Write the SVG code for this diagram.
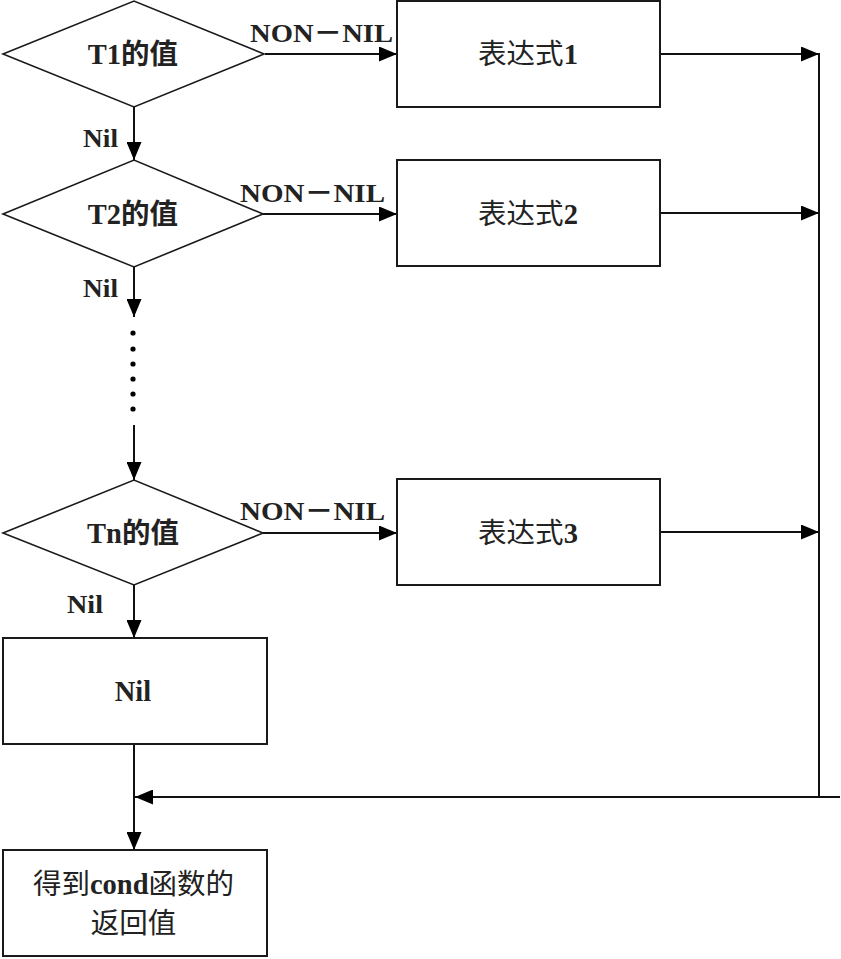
<svg xmlns="http://www.w3.org/2000/svg" width="841" height="959" viewBox="0 0 841 959">
<style>
.shape{fill:#fff;stroke:#1a1a1a;stroke-width:2}
.dia{fill:#fff;stroke:#1a1a1a;stroke-width:1.6}
.conn{fill:none;stroke:#111;stroke-width:2}
.t{font-family:"Liberation Serif","Noto Sans CJK SC",serif;font-size:28.5px;fill:#222;text-anchor:middle}
.b{font-weight:bold}
.lbl{font-family:"Liberation Serif","Noto Sans CJK SC",serif;font-size:26px;font-weight:bold;fill:#222}
</style>
<defs>
<marker id="ah" viewBox="0 0 18 15" refX="18" refY="7.5" markerWidth="18" markerHeight="15" markerUnits="userSpaceOnUse" orient="auto">
<path d="M0,0 L18,7.5 L0,15 Z" fill="#000"/>
</marker>
</defs>
<rect width="841" height="959" fill="#fff"/>
<g id="connectors">
<line class="conn" x1="265" y1="54" x2="397" y2="54" marker-end="url(#ah)"/>
<line class="conn" x1="134" y1="107" x2="134" y2="160" marker-end="url(#ah)"/>
<line class="conn" x1="263" y1="214" x2="397" y2="214" marker-end="url(#ah)"/>
<line class="conn" x1="134" y1="267" x2="134" y2="317" marker-end="url(#ah)"/>
<g fill="#000">
<circle cx="133" cy="333" r="2.6"/><circle cx="133" cy="349" r="2.6"/><circle cx="133" cy="364" r="2.6"/>
<circle cx="133" cy="379" r="2.6"/><circle cx="133" cy="394" r="2.6"/><circle cx="133" cy="409" r="2.6"/>
</g>
<line class="conn" x1="134" y1="425" x2="134" y2="480" marker-end="url(#ah)"/>
<line class="conn" x1="263" y1="533" x2="397" y2="533" marker-end="url(#ah)"/>
<line class="conn" x1="134" y1="585" x2="134" y2="638" marker-end="url(#ah)"/>
<line class="conn" x1="134" y1="744" x2="134" y2="850" marker-end="url(#ah)"/>
<line class="conn" x1="660" y1="54" x2="819" y2="54" marker-end="url(#ah)"/>
<line class="conn" x1="660" y1="213" x2="819" y2="213" marker-end="url(#ah)"/>
<line class="conn" x1="660" y1="532" x2="819" y2="532" marker-end="url(#ah)"/>
<line class="conn" x1="819" y1="53" x2="819" y2="798"/>
<line class="conn" x1="840" y1="797" x2="135" y2="797" marker-end="url(#ah)"/>
<text class="lbl" x="250" y="42" textLength="143" lengthAdjust="spacingAndGlyphs">NON－NIL</text>
<text class="lbl" x="83" y="147" textLength="35" lengthAdjust="spacingAndGlyphs">Nil</text>
<text class="lbl" x="240" y="202" textLength="145" lengthAdjust="spacingAndGlyphs">NON－NIL</text>
<text class="lbl" x="83" y="297" textLength="35" lengthAdjust="spacingAndGlyphs">Nil</text>
<text class="lbl" x="240" y="520" textLength="145" lengthAdjust="spacingAndGlyphs">NON－NIL</text>
<text class="lbl" x="67" y="613" textLength="36" lengthAdjust="spacingAndGlyphs">Nil</text>
</g>
<g id="d1">
<polygon class="dia" points="3,54 134,1 264,54 134,107"/>
<text class="t b" x="133" y="64">T1的值</text>
</g>
<g id="d2">
<polygon class="dia" points="3,214 134,160 263,214 134,267"/>
<text class="t b" x="133" y="224">T2的值</text>
</g>
<g id="d3">
<polygon class="dia" points="3,533 134,480 263,533 134,585"/>
<text class="t b" x="133" y="543">Tn的值</text>
</g>
<g id="e1">
<rect class="shape" x="397" y="1" width="263" height="106"/>
<text class="t" x="528" y="64">表达式<tspan class="b">1</tspan></text>
</g>
<g id="e2">
<rect class="shape" x="397" y="160" width="263" height="106"/>
<text class="t" x="528" y="224">表达式<tspan class="b">2</tspan></text>
</g>
<g id="e3">
<rect class="shape" x="397" y="479" width="263" height="106"/>
<text class="t" x="528" y="543">表达式<tspan class="b">3</tspan></text>
</g>
<g id="nil">
<rect class="shape" x="3" y="638" width="264" height="106"/>
<text class="t b" x="133" y="701">Nil</text>
</g>
<g id="result">
<rect class="shape" x="3" y="850" width="264" height="106"/>
<text class="t" x="133.5" y="894">得到<tspan class="b">cond</tspan>函数的</text>
<text class="t" x="133.5" y="933">返回值</text>
</g>
</svg>
